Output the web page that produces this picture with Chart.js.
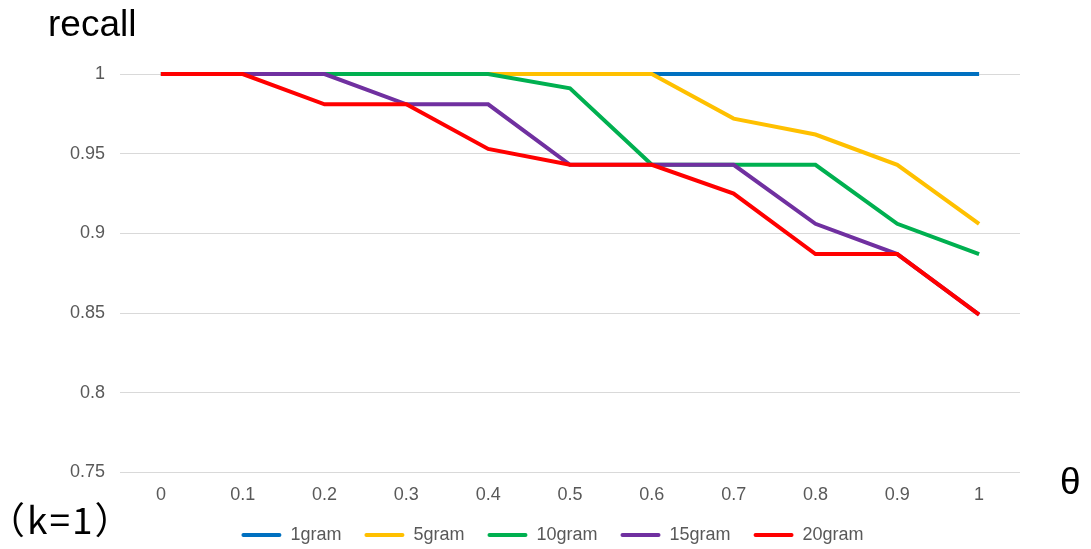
<!DOCTYPE html>
<html>
<head>
<meta charset="utf-8">
<script src="https://cdn.jsdelivr.net/npm/chart.js@4.4.1/dist/chart.umd.min.js"></script>
<style>
  body { margin: 0; background: #fff; }
  #wrap { position: relative; width: 1091px; height: 549px; }
  .lbl { position: absolute; color: #000; font-family: 'Liberation Sans', Arial, sans-serif; white-space: nowrap; line-height: normal; }
</style>
</head>
<body>
<div id="wrap">
  <canvas id="myChart" width="1091" height="549"></canvas>
  <div class="lbl" style="left:48px; top:3px; font-size:37px;">recall</div>
  <div class="lbl" style="left:1060px; top:461px; font-size:37px;">θ</div>
  <div class="lbl" style="left:-12px; top:491px; font-size:37px; letter-spacing:2px; font-family:'Noto Sans CJK SC', sans-serif;">（k=1）</div>
</div>
<script>
// theta values on x axis
const thetaLabels = ['0', '0.1', '0.2', '0.3', '0.4', '0.5', '0.6', '0.7', '0.8', '0.9', '1'];

// recall per n-gram size
const gram1 = [1, 1, 1, 1, 1, 1, 1, 1, 1, 1, 1];
const gram5 = [1, 1, 1, 1, 1, 1, 1, 0.972, 0.962, 0.943, 0.906];
const gram10 = [1, 1, 1, 1, 1, 0.991, 0.943, 0.943, 0.943, 0.906, 0.887];
const gram15 = [1, 1, 1, 0.981, 0.981, 0.943, 0.943, 0.943, 0.906, 0.887, 0.849];
const gram20 = [1, 1, 0.981, 0.981, 0.953, 0.943, 0.943, 0.925, 0.887, 0.887, 0.849];

const seriesNames = ['1gram', '5gram', '10gram', '15gram', '20gram'];
const seriesColors = ['#0070C0', '#FFC000', '#00B050', '#7030A0', '#FF0000'];
const seriesValues = [gram1, gram5, gram10, gram15, gram20];

const yTicks = [0.75, 0.8, 0.85, 0.9, 0.95, 1];

const data = {
  labels: thetaLabels,
  datasets: seriesValues.map((vals, i) => ({
    label: seriesNames[i],
    data: vals,
    borderColor: seriesColors[i],
    backgroundColor: seriesColors[i],
    borderWidth: 4,
    pointRadius: 0,
    tension: 0,
    clip: 8,
    // later series on top (red over purple ...)
    order: seriesValues.length - i,
  })),
};

const tickFont = { family: "'Liberation Sans', Arial, sans-serif", size: 18 };
const tickColor = '#595959';

// nudge the legend row a bit right, like the original
const legendNudge = {
  id: 'legendNudge',
  afterLayout(chart) {
    chart.legend.left += 17;
    chart.legend.right += 17;
  },
};

const config = {
  type: 'line',
  data: data,
  plugins: [legendNudge],
  options: {
    responsive: false,
    animation: false,
    layout: { padding: { top: 74, right: 71, left: 66, bottom: 0 } },
    plugins: {
      tooltip: { enabled: false },
      legend: {
        position: 'bottom',
        maxHeight: 31,
        labels: {
          boxWidth: 40,
          boxHeight: 4,
          padding: 8,
          color: tickColor,
          font: tickFont,
          // trailing spaces widen the gap between items without a taller legend
          generateLabels: (chart) => chart.data.datasets.map((ds, i) => ({
            text: ds.label + '   ',
            fillStyle: ds.borderColor,
            strokeStyle: ds.borderColor,
            lineWidth: 0,
            fontColor: tickColor,
            datasetIndex: i,
            borderRadius: 2,
          })),
        },
      },
    },
    scales: {
      x: {
        offset: true,
        grid: { display: false, drawTicks: false },
        border: { display: false },
        ticks: { color: tickColor, font: tickFont, padding: 12, maxRotation: 0 },
      },
      y: {
        min: 0.75,
        max: 1,
        afterFit: (s) => { s.width = 54; },
        afterBuildTicks: (s) => { s.ticks = yTicks.map((v) => ({ value: v })); },
        grid: { color: '#D9D9D9', lineWidth: 1, drawTicks: false },
        border: { display: false },
        ticks: {
          color: tickColor,
          font: tickFont,
          padding: 15,
          callback: (v) => String(+v.toFixed(2)),
        },
      },
    },
  },
};

const myChart = new Chart(document.getElementById('myChart'), config);
</script>
</body>
</html>
